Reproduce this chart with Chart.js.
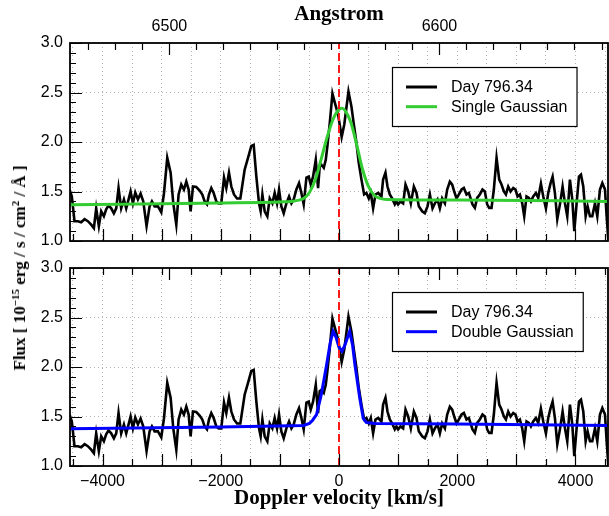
<!DOCTYPE html>
<html>
<head>
<meta charset="utf-8">
<script src="https://cdn.jsdelivr.net/npm/chart.js@4.4.1/dist/chart.umd.min.js"></script>
<style>
  body { margin: 0; background: #fff; }
  #wrap { position: relative; width: 609px; height: 516px; overflow: hidden; }
  #wrap canvas { position: absolute; left: 0; }
  #topChart { top: 0; }
  #bottomChart { top: 250px; }
  #ytitle {
    position: absolute; left: 20px; top: 268px;
    transform: translate(-50%, -50%) rotate(-90deg);
    white-space: nowrap;
    font: bold 17px "Liberation Serif", "Times New Roman", serif;
    color: #000;
  }
  #ytitle sup { font-size: 11px; line-height: 0; vertical-align: 6px; }
</style>
</head>
<body>
<div id="wrap">
  <canvas id="topChart" width="609" height="245"></canvas>
  <canvas id="bottomChart" width="609" height="266"></canvas>
  <div id="ytitle">Flux [ 10<sup>&minus;15</sup> erg / s / cm<sup>2</sup> / &Aring; ]</div>
</div>
<script>
// Observed spectrum (Day 796.34), Doppler velocity in km/s and flux in 1e-15 erg/s/cm2/A
const specVel = [
  -4558, -4519, -4474, -4417, -4361, -4304, -4248, -4192, -4146, -4107,
  -4062, -4022, -3977, -3938, -3898, -3853, -3808, -3768, -3729, -3684,
  -3638, -3599, -3559, -3525, -3486, -3446, -3401, -3356, -3311, -3255,
  -3204, -3164, -3119, -3063, -3006, -2961, -2905, -2848, -2803, -2752,
  -2713, -2668, -2623, -2583, -2543, -2510, -2470, -2414, -2357, -2312,
  -2273, -2233, -2199, -2160, -2120, -2075, -2036, -1991, -1945, -1906,
  -1861, -1821, -1776, -1725, -1669, -1596, -1539, -1483, -1443, -1398,
  -1353, -1325, -1296, -1257, -1212, -1172, -1127, -1088, -1048, -1014,
  -975, -935, -890, -845, -805, -766, -721, -676, -636, -597,
  -551, -512, -478, -439, -393, -354, -326, -297, -258, -224,
  -196, -156, -111, -72, -16, 45, 90, 160, 210, 255,
  295, 334, 380, 425, 464, 504, 538, 577, 617, 662,
  718, 746, 786, 820, 859, 899, 944, 972, 1000, 1040,
  1085, 1125, 1170, 1215, 1266, 1311, 1350, 1407, 1452, 1497,
  1537, 1582, 1621, 1666, 1706, 1745, 1791, 1830, 1875, 1915,
  1949, 1988, 2028, 2073, 2112, 2157, 2197, 2258, 2298, 2337,
  2382, 2427, 2467, 2506, 2540, 2580, 2619, 2665, 2710, 2749,
  2789, 2823, 2862, 2902, 2947, 2986, 3020, 3060, 3099, 3133,
  3172, 3212, 3246, 3285, 3331, 3370, 3415, 3455, 3500, 3539,
  3579, 3613, 3652, 3692, 3737, 3782, 3822, 3861, 3906, 3946,
  3980, 4019, 4059, 4093, 4132, 4172, 4205, 4245, 4284, 4330,
  4369, 4414, 4454, 4499, 4527, 4555
];
const specFlux = [
  1.52, 1.45, 1.20, 1.20, 1.19, 1.22, 1.20, 1.165, 1.13, 1.33,
  1.15, 1.30, 1.25, 1.32, 1.36, 1.33, 1.28, 1.33, 1.535, 1.33,
  1.42, 1.33, 1.42, 1.50, 1.38, 1.49, 1.42, 1.48, 1.40, 1.15,
  1.35, 1.40, 1.35, 1.35, 1.29, 1.48, 1.84, 1.69, 1.38, 1.165,
  1.47, 1.57, 1.52, 1.60, 1.52, 1.30, 1.55, 1.545, 1.51, 1.47,
  1.40, 1.37, 1.47, 1.535, 1.485, 1.40, 1.38, 1.38, 1.64, 1.535,
  1.69, 1.55, 1.47, 1.43, 1.43, 1.72, 1.84, 1.96, 1.97, 1.65,
  1.38, 1.30, 1.47, 1.30, 1.25, 1.43, 1.38, 1.485, 1.38, 1.52,
  1.35, 1.28, 1.38, 1.45, 1.38, 1.42, 1.52, 1.585, 1.485, 1.37,
  1.64, 1.65, 1.57, 1.65, 1.82, 1.535, 1.755, 1.77, 1.74, 1.82,
  1.96, 2.19, 2.49, 2.40, 2.28, 2.05, 2.18, 2.51, 2.36, 2.16,
  1.99, 1.79, 1.62, 1.47, 1.485, 1.43, 1.485, 1.33, 1.47, 1.485,
  1.45, 1.62, 1.69, 1.55, 1.47, 1.43, 1.37, 1.40, 1.37, 1.40,
  1.38, 1.57, 1.50, 1.38, 1.55, 1.485, 1.35, 1.30, 1.28, 1.35,
  1.47, 1.33, 1.38, 1.42, 1.33, 1.43, 1.38, 1.52, 1.60, 1.57,
  1.50, 1.43, 1.47, 1.52, 1.535, 1.47, 1.485, 1.37, 1.335, 1.435,
  1.47, 1.52, 1.50, 1.37, 1.335, 1.335, 1.52, 1.84, 1.62, 1.57,
  1.50, 1.47, 1.55, 1.50, 1.535, 1.52, 1.45, 1.47, 1.38, 1.25,
  1.45, 1.435, 1.40, 1.45, 1.485, 1.435, 1.58, 1.45, 1.33, 1.485,
  1.585, 1.65, 1.485, 1.22, 1.37, 1.55, 1.38, 1.25, 1.62, 1.42,
  1.10, 1.38, 1.65, 1.67, 1.55, 1.25, 1.35, 1.25, 1.25, 1.38,
  1.25, 1.52, 1.585, 1.52, 1.25, 1.01
];

// Single Gaussian fit (top panel)
const singleVel  = [-4550, -2000, -1000, -800, -700, -600, -500, -400, -300, -200, -100, 0, 50, 100, 200, 300, 400, 500, 600, 700, 800, 2000, 4550];
const singleFlux = [1.365, 1.385, 1.395, 1.40, 1.41, 1.43, 1.49, 1.62, 1.83, 2.05, 2.23, 2.33, 2.34, 2.32, 2.20, 1.97, 1.72, 1.55, 1.46, 1.43, 1.42, 1.415, 1.40];

// Double Gaussian fit (bottom panel)
const doubleVel  = [-4550, -2000, -600, -500, -450, -380, -300, -210, -150, -100, -50, 0, 50, 100, 180, 230, 270, 350, 410, 460, 600, 2000, 4550];
const doubleFlux = [1.375, 1.395, 1.41, 1.43, 1.46, 1.52, 1.72, 2.02, 2.24, 2.36, 2.30, 2.20, 2.16, 2.22, 2.36, 2.22, 2.02, 1.69, 1.48, 1.44, 1.43, 1.425, 1.41];

// rest velocity marker
const zeroVel = [0, 0];
const zeroFlux = [1, 3];

// axes and ticks
const velMin = -4550, velMax = 4550;
const fluxMin = 1, fluxMax = 3;
const velTicks = [-4500, -4000, -3500, -3000, -2500, -2000, -1500, -1000, -500, 0,
                  500, 1000, 1500, 2000, 2500, 3000, 3500, 4000, 4500];
const fluxTicks = [1.0, 1.1, 1.2, 1.3, 1.4, 1.5, 1.6, 1.7, 1.8, 1.9, 2.0,
                   2.1, 2.2, 2.3, 2.4, 2.5, 2.6, 2.7, 2.8, 2.9, 3.0];
const angTicks = [6470, 6480, 6490, 6500, 6510, 6520, 6530, 6540, 6550, 6560,
                  6570, 6580, 6590, 6600, 6610, 6620, 6630, 6640, 6650, 6660];
const angLabels = [6500, 6600];
const lambda0 = 6562.8;            // H-alpha rest wavelength
const cLight = 299792.458;
const angMin = lambda0 * (1 + velMin / cLight);
const angMax = lambda0 * (1 + velMax / cLight);

const sansFont = '"Liberation Sans", Arial, Helvetica, sans-serif';
const serifFont = '"Liberation Serif", "Times New Roman", serif';

function toPoints(xs, ys) {
  return xs.map((x, i) => ({ x: x, y: ys[i] }));
}

function isHalf(v) {
  return Math.abs(v * 2 - Math.round(v * 2)) < 1e-6;
}

function fmtVel(v) {
  return v < 0 ? '\u2212' + Math.abs(v) : String(v);
}

function noPad(s) {
  s.paddingLeft = 0; s.paddingRight = 0; s.paddingTop = 0; s.paddingBottom = 0;
}

// inward ticks, frame and boxed legend, drawn after the datasets
const panelDecor = {
  id: 'panelDecor',
  afterDatasetsDraw(chart, args, opts) {
    const { ctx, chartArea: a, scales } = chart;
    ctx.save();
    ctx.strokeStyle = '#000';
    ctx.lineWidth = 1.2;
    ctx.beginPath();
    // velocity ticks on the bottom edge
    scales.x.ticks.forEach(t => {
      const px = Math.round(scales.x.getPixelForValue(t.value)) + 0.5;
      const len = t.value % 1000 === 0 ? 12 : 7;
      ctx.moveTo(px, a.bottom);
      ctx.lineTo(px, a.bottom - len);
      if (opts.topVelTicks) {
        ctx.moveTo(px, a.top);
        ctx.lineTo(px, a.top + 7);
      }
    });
    // wavelength ticks on the top edge
    scales.x2.ticks.forEach(t => {
      const major = angLabels.includes(t.value);
      if (!major && !opts.topAngMinor) return;
      const px = Math.round(scales.x2.getPixelForValue(t.value)) + 0.5;
      ctx.moveTo(px, a.top);
      ctx.lineTo(px, a.top + (major ? 12 : 7));
    });
    // flux ticks on the left edge
    scales.y.ticks.forEach(t => {
      const py = Math.round(scales.y.getPixelForValue(t.value)) + 0.5;
      const len = isHalf(t.value) ? 12 : 6;
      ctx.moveTo(a.left, py);
      ctx.lineTo(a.left + len, py);
    });
    ctx.stroke();

    // frame
    ctx.lineWidth = 1.8;
    ctx.strokeRect(a.left, a.top, a.right - a.left, a.bottom - a.top);

    // legend
    const items = chart.data.datasets.filter(d => d.label);
    ctx.font = '16px ' + sansFont;
    const textW = Math.max(...items.map(d => ctx.measureText(d.label).width));
    const bx = opts.legendX, by = opts.legendY;
    const bw = 59 + textW + 9, bh = 59;
    ctx.fillStyle = '#fff';
    ctx.fillRect(bx, by, bw, bh);
    ctx.lineWidth = 1.2;
    ctx.strokeStyle = '#000';
    ctx.strokeRect(bx + 0.5, by + 0.5, bw, bh);
    items.forEach((d, i) => {
      const ry = by + 20 + i * 19.7;
      ctx.strokeStyle = d.borderColor;
      ctx.lineWidth = 3;
      ctx.beginPath();
      ctx.moveTo(bx + 14, ry);
      ctx.lineTo(bx + 45, ry);
      ctx.stroke();
      ctx.fillStyle = '#000';
      ctx.textBaseline = 'middle';
      ctx.fillText(d.label, bx + 59, ry + 1);
    });
    ctx.restore();
  }
};

function makePanel(canvasId, isTop, fitLabel, fitColor, fitVel, fitFlux, fitSmooth) {
  const gridColor = '#b4b4b4';
  return new Chart(document.getElementById(canvasId), {
    type: 'line',
    data: {
      datasets: [
        {
          label: 'Day 796.34',
          data: toPoints(specVel, specFlux),
          borderColor: '#000',
          borderWidth: 2.6,
          pointRadius: 0,
          tension: 0,
          order: 2
        },
        {
          label: fitLabel,
          data: toPoints(fitVel, fitFlux),
          borderColor: fitColor,
          borderWidth: 3,
          pointRadius: 0,
          cubicInterpolationMode: fitSmooth ? 'monotone' : 'default',
          tension: 0,
          order: 1
        },
        {
          data: toPoints(zeroVel, zeroFlux),
          borderColor: '#ff1a1a',
          borderWidth: 2,
          borderDash: [8, 4],
          pointRadius: 0,
          order: 0
        }
      ]
    },
    options: {
      responsive: false,
      animation: false,
      devicePixelRatio: 1,
      events: [],
      layout: { padding: { left: 0, right: 1, top: 0, bottom: 0 } },
      plugins: {
        legend: { display: false },
        tooltip: { enabled: false },
        panelDecor: {
          legendX: 392,
          legendY: isTop ? 67 : 42,
          topVelTicks: !isTop,
          topAngMinor: isTop
        }
      },
      scales: {
        x: {
          type: 'linear',
          position: 'bottom',
          min: velMin,
          max: velMax,
          afterBuildTicks: s => { s.ticks = velTicks.map(v => ({ value: v })); },
          afterFit: s => { s.height = isTop ? 4 : 50; noPad(s); },
          ticks: {
            display: !isTop,
            autoSkip: false,
            maxRotation: 0,
            padding: 6,
            color: '#000',
            font: { family: sansFont, size: 16 },
            callback: v => (v % 2000 === 0 ? fmtVel(v) : '')
          },
          grid: { drawTicks: false, lineWidth: 1, color: gridColor },
          border: { display: false, dash: [1, 3] },
          title: {
            display: !isTop,
            text: 'Doppler velocity [km/s]',
            color: '#000',
            font: { family: serifFont, size: 21, weight: 'bold' },
            padding: { top: 0, bottom: 5 }
          }
        },
        x2: {
          type: 'linear',
          position: 'top',
          min: angMin,
          max: angMax,
          afterBuildTicks: s => { s.ticks = angTicks.map(v => ({ value: v })); },
          afterFit: s => { s.height = isTop ? 43 : 18; noPad(s); },
          ticks: {
            display: isTop,
            autoSkip: false,
            maxRotation: 0,
            padding: 7,
            color: '#000',
            font: { family: sansFont, size: 16 },
            callback: v => (angLabels.includes(v) ? String(v) : '')
          },
          grid: { display: false, drawTicks: false },
          border: { display: false },
          title: {
            display: isTop,
            text: 'Angstrom',
            color: '#000',
            font: { family: serifFont, size: 21, weight: 'bold' },
            padding: { top: 2, bottom: 0 }
          }
        },
        y: {
          min: fluxMin,
          max: fluxMax,
          afterBuildTicks: s => { s.ticks = fluxTicks.map(v => ({ value: v })); },
          afterFit: s => { s.width = 70; noPad(s); },
          ticks: {
            autoSkip: false,
            padding: 7,
            color: '#000',
            font: { family: sansFont, size: 16 },
            callback: v => (isHalf(v) ? v.toFixed(1) : '')
          },
          grid: {
            drawTicks: false,
            lineWidth: 1,
            color: c => (c.tick && isHalf(c.tick.value) ? gridColor : 'rgba(0,0,0,0)')
          },
          border: { display: false, dash: [1, 3] }
        }
      }
    },
    plugins: [panelDecor]
  });
}

makePanel('topChart', true, 'Single Gaussian', '#33cc33', singleVel, singleFlux, true);
makePanel('bottomChart', false, 'Double Gaussian', '#0000ff', doubleVel, doubleFlux, false);
</script>
</body>
</html>
